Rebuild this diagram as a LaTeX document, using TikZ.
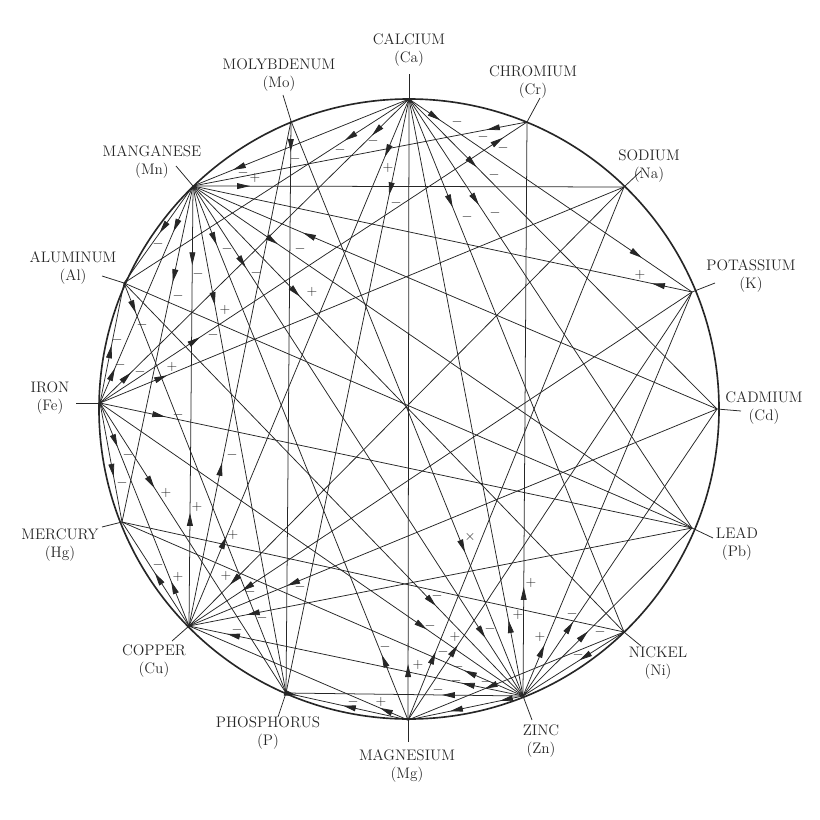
\documentclass[tikz,border=0pt]{standalone}
\usepackage{fontspec}
\usetikzlibrary{decorations.markings,arrows.meta}
\newcommand\elfont{\fontsize{13}{16}\selectfont\addfontfeatures{LetterSpace=9}}
\tikzset{
  chl/.style={line width=0.65pt, black!85},
  af/.style={postaction={decorate,decoration={markings,mark=at position #1 with {\arrow{Triangle[length=11pt,width=5pt]}}}}},
  ab/.style={postaction={decorate,decoration={markings,mark=at position #1 with {\arrowreversed{Triangle[length=11pt,width=5pt]}}}}},
  sg/.style={font=\large, inner sep=0pt, black!85},
  lab/.style={align=center, font=\elfont, inner sep=0pt, black!85},
  tickl/.style={line width=0.65pt, black!85},
  rim/.style={line width=1.4pt, black!85}
}
\newcommand\chd[3][]{\draw[chl,#1] (#2) -- (#3);}
\begin{document}
\begin{tikzpicture}[x=0.03cm,y=-0.03cm]
\useasboundingbox (0,0) rectangle (820,820);
% element points
\coordinate (Ca) at (409,99);
\coordinate (Cr) at (527,122);
\coordinate (Na) at (624,187);
\coordinate (K)  at (692,292);
\coordinate (Cd) at (717,409);
\coordinate (Pb) at (692,528);
\coordinate (Ni) at (624,632);
\coordinate (Zn) at (523,696);
\coordinate (Mg) at (408,720);
\coordinate (P)  at (286,693);
\coordinate (Cu) at (189,626);
\coordinate (Hg) at (122,522);
\coordinate (Fe) at (100,403);
\coordinate (Al) at (124,283);
\coordinate (Mn) at (193,186);
\coordinate (Mo) at (291,121);
\coordinate (O) at (409,409);
\draw[rim] (O) circle (310);
% tick ends
\coordinate (Ca-t) at (409,74);
\coordinate (Cr-t) at (540,98);
\coordinate (Na-t) at (641,171);
\coordinate (K-t)  at (715,283);
\coordinate (Cd-t) at (741,411);
\coordinate (Pb-t) at (713,538);
\coordinate (Ni-t) at (641,646);
\coordinate (Zn-t) at (532,720);
\coordinate (Mg-t) at (408,742);
\coordinate (P-t)  at (278,717);
\coordinate (Cu-t) at (172,641);
\coordinate (Hg-t) at (102,527);
\coordinate (Fe-t) at (76,403);
\coordinate (Al-t) at (102,276);
\coordinate (Mn-t) at (176,166);
\coordinate (Mo-t) at (283,95);
\foreach \e in {Ca,Cr,Na,K,Cd,Pb,Ni,Zn,Mg,P,Cu,Hg,Fe,Al,Mn,Mo}
  \draw[tickl] (\e) -- (\e-t);
% labels
\node[lab] (Ca-l) at (409,50) {CALCIUM\\(Ca)};
\node[lab] (Mo-l) at (279,75) {MOLYBDENUM\\(Mo)};
\node[lab] (Cr-l) at (533,82) {CHROMIUM\\(Cr)};
\node[lab] (Mn-l) at (152,162) {MANGANESE\\(Mn)};
\node[lab] (Na-l) at (649,166) {SODIUM\\(Na)};
\node[lab] (Al-l) at (73,268) {ALUMINUM\\(Al)};
\node[lab] (K-l)  at (751,276) {POTASSIUM\\(K)};
\node[lab] (Fe-l) at (50,398) {IRON\\(Fe)};
\node[lab] (Cd-l) at (764,408) {CADMIUM\\(Cd)};
\node[lab] (Hg-l) at (60,545) {MERCURY\\(Hg)};
\node[lab] (Pb-l) at (737,544) {LEAD\\(Pb)};
\node[lab] (Cu-l) at (154,661) {COPPER\\(Cu)};
\node[lab] (Ni-l) at (658,663) {NICKEL\\(Ni)};
\node[lab] (P-l)  at (268,733) {PHOSPHORUS\\(P)};
\node[lab] (Zn-l) at (541,741) {ZINC\\(Zn)};
\node[lab] (Mg-l) at (407,766) {MAGNESIUM\\(Mg)};
% chords from Calcium
\chd[ab=0.91]{Ca}{Mg}
\chd[ab=0.185]{Mn}{Ca}
\chd[af=0.225]{Ca}{Al}
\chd[af=0.12,ab=0.9]{Ca}{Fe}
\chd[af=0.11,ab=0.83]{Ca}{Cu}
\chd[af=0.162]{Ca}{P}
\chd[ab=0.873]{Ca}{Zn}
\chd[af=0.203]{Ca}{Ni}
\chd[af=0.247]{Ca}{Pb}
\chd[af=0.22]{Ca}{Cd}
\chd[af=0.11,af=0.823]{Ca}{K}
% chromium
\chd[af=0.12]{Cr}{Mn}
\chd[ab=0.056,ab=0.766]{Cr}{Fe}
\chd[ab=0.81]{Cr}{Zn}
% sodium
\chd[af=0.132]{Mn}{Na}
\chd[af=0.128]{Fe}{Na}
\chd[ab=0.094]{Cu}{Na}
\chd[af=0.128]{Mg}{Na}
% potassium
\chd[ab=0.92]{Mn}{K}
\chd[ab=0.105]{Cu}{K}
\chd[af=0.126]{Zn}{K}
\chd[af=0.175]{Mg}{K}
% cadmium
\chd[ab=0.21]{Mn}{Cd}
\chd[ab=0.186]{Cu}{Cd}
\chd[af=0.258]{Zn}{Cd}
% lead
\chd[af=0.17]{Mn}{Pb}
\chd[af=0.11]{Fe}{Pb}
\chd[ab=0.115]{Cu}{Pb}
\chd[af=0.385]{Zn}{Pb}
\chd{Al}{Pb}
% nickel
\chd[af=0.248]{Mn}{Ni}
\chd[ab=0.56]{Zn}{Ni}
\chd[ab=0.356]{Mg}{Ni}
\chd{Hg}{Ni}
% zinc
\chd[af=0.16,af=0.886]{Mn}{Zn}
\chd[af=0.782]{Al}{Zn}
\chd[af=0.773]{Fe}{Zn}
\chd[ab=0.853]{Hg}{Zn}
\chd[ab=0.114,ab=0.817]{Cu}{Zn}
\chd[ab=0.658]{P}{Zn}
\chd[ab=0.365,ab=0.8]{Mg}{Zn}
\chd[af=0.75]{Mo}{Zn}
% magnesium
\chd[af=0.11,ab=0.878]{Mn}{Mg}
\chd[af=0.09,ab=0.467]{P}{Mg}
\chd[ab=0.872]{Cu}{Mg}
% phosphorus, molybdenum
\chd[af=0.054]{Mo}{P}
\chd[af=0.323]{Cu}{Mo}
\chd[af=0.235]{Mn}{P}
\chd[af=0.073]{Al}{P}
\chd[af=0.293]{Fe}{P}
% manganese left side
\chd[af=0.18,ab=0.743]{Mn}{Cu}
\chd[af=0.286]{Mn}{Hg}
\chd[af=0.21,ab=0.84]{Mn}{Fe}
\chd[af=0.485]{Mn}{Al}
% iron, copper, mercury
\chd[af=0.48]{Fe}{Al}
\chd[af=0.197,ab=0.8]{Fe}{Cu}
\chd[af=0.62]{Fe}{Hg}
\chd[af=0.51]{Cu}{Hg}
% signs
\foreach \x/\y/\s [count=\i] in {
  418/665/+, 243/173/-, 340/150/-, 373/141/-, 140/372/-, 388/168/+, 233/535/+,
  396/203/-, 518/615/+, 467/217/-, 495/213/-, 494/175/-, 457/122/-, 483/137/-,
  503/148/-, 213/335/-, 531/583/+, 255/178/+, 172/367/+, 226/576/+, 443/652/-,
  640/275/+, 250/592/-, 540/637/+, 455/637/+, 300/587/-, 572/614/-, 300/249/-,
  178/415/-, 262/618/-, 600/632/-, 312/292/+, 578/655/-, 486/682/-, 256/273/-,
  490/629/-, 437/596/-, 430/626/-, 458/667/-, 237/630/-, 456/681/-, 438/690/-,
  227/249/-, 385/647/-, 353/702/-, 295/159/-, 232/455/-, 198/274/-, 197/507/+,
  225/310/+, 178/296/-, 120/365/-, 158/244/-, 117/340/-, 128/455/-, 178/577/+,
  122/483/-, 166/493/+, 158/565/-, 470/537/\times, 142/325/-, 381/702/+}
  \node[sg] (sg\i) at (\x,\y) {$\s$};
\end{tikzpicture}
\end{document}
